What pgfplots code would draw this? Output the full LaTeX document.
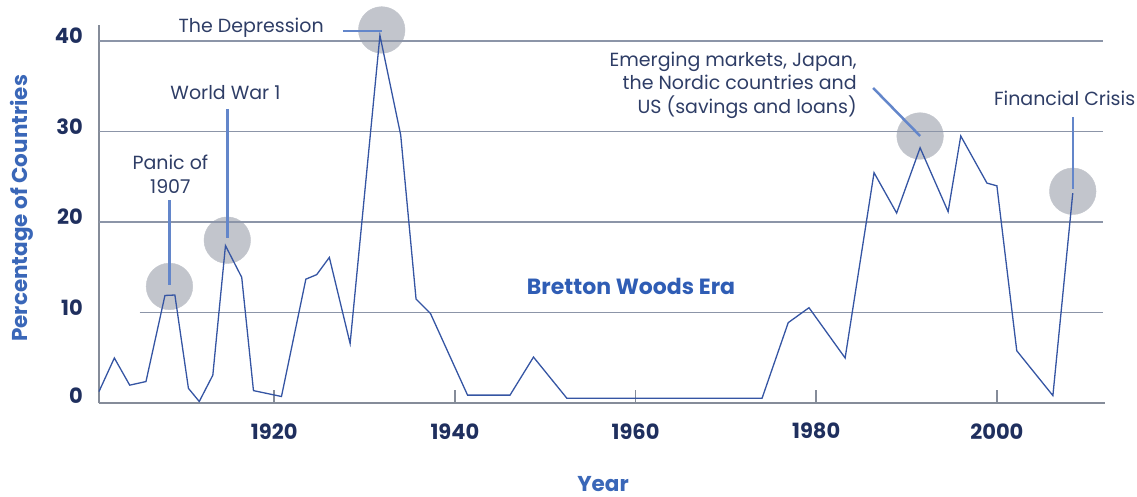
\documentclass[border=0pt]{standalone}
\usepackage{pgfplots}
\pgfplotsset{compat=1.18}
\usepackage{fontspec}
\setmainfont{Poppins}
\definecolor{linecol}{HTML}{3555A3}
\definecolor{gridcol}{HTML}{8C95A8}
\definecolor{axisgray}{HTML}{858C99}
\definecolor{circgray}{HTML}{C2C5CC}
\definecolor{annline}{HTML}{6386CA}
\definecolor{anntext}{HTML}{2E3D66}
\definecolor{bwblue}{HTML}{2F5DB5}
\definecolor{labelblue}{HTML}{3A67B8}
\definecolor{ticknavy}{HTML}{1F2F5E}
\begin{document}
\begin{tikzpicture}[x=1pt,y=1pt]
\begin{axis}[
  set layers=standard,
  at={(99pt,93.7pt)}, anchor=south west,
  scale only axis, width=1006pt, height=378.3pt,
  xmin=1900.6, xmax=2011.97, ymin=0, ymax=41.75,
  axis x line*=bottom, axis y line*=left,
  axis line style={draw=axisgray, line width=2pt},
  xtick={1920,1940,1960,1980,2000}, ytick={0,10,20,30,40},
  yticklabels={{\raisebox{6pt}{0}},10,20,30,40},
  xtick align=inside, major tick length=13pt,
  xtick style={draw=axisgray, line width=1.5pt},
  ytick style={draw=none},
  tick label style={font=\bfseries\fontsize{21}{21}\selectfont, text=ticknavy},
  /pgf/number format/assume math mode=true,
  /pgf/number format/1000 sep={},
  xticklabel style={anchor=center, yshift=-28pt, inner sep=0pt},
  yticklabel style={anchor=east, xshift=-16pt, yshift=5pt, inner sep=0pt},
  clip=false,
]
% highlight circles
\addplot[on layer=axis background, mark layer=axis background, only marks, mark=*, mark size=23.3pt, color=circgray, mark options={fill=circgray, draw=circgray}]
  coordinates {(1908.4,12.9) (1914.8,18.0) (1931.9,41.2) (1991.5,29.5) (2008.4,23.4)};
% grid lines
\draw[gridcol, line width=1.5pt] (axis cs:1905.1,10) -- (axis cs:2011.7,10);
\draw[gridcol, line width=1.5pt] (axis cs:1900.6,20) -- (axis cs:2011.7,20);
\draw[gridcol, line width=1.5pt] (axis cs:1900.6,30) -- (axis cs:2011.7,30);
\draw[gridcol, line width=1.5pt] (axis cs:1900.6,40) -- (axis cs:2011.7,40);
% series
\addplot[linecol, line width=1.3pt] coordinates {
(1900.6,1.3) (1902.3,5.0) (1904.0,2.0) (1905.8,2.4) (1907.9,11.9) (1909.0,11.95)
(1910.5,1.65) (1911.7,0.2) (1913.2,3.1) (1914.6,17.4) (1916.4,13.9) (1917.7,1.4)
(1920.8,0.75) (1923.5,13.7) (1924.7,14.2) (1926.1,16.1) (1928.4,6.6) (1931.7,40.6)
(1934.0,29.6) (1935.7,11.5) (1937.3,9.9) (1941.4,0.9) (1946.1,0.9) (1948.7,5.1)
(1952.4,0.55) (1974.0,0.55) (1976.9,8.9) (1979.2,10.55) (1983.2,5.0) (1986.4,25.45)
(1988.9,21.0) (1991.5,28.2) (1994.6,21.15) (1996.0,29.5) (1998.9,24.3) (2000.0,24.0)
(2002.2,5.8) (2006.2,0.85) (2008.4,23.2)
};
% annotation lines
\draw[annline, line width=2.5pt] (axis cs:1908.4,22.4) -- (axis cs:1908.4,13.0);
\draw[annline, line width=2.5pt] (axis cs:1914.85,32.5) -- (axis cs:1914.85,18.25);
\draw[annline, line width=2.5pt] (axis cs:1927.6,41.1) -- (axis cs:1931.9,41.1);
\draw[annline, line width=2.5pt] (axis cs:1986.3,34.8) -- (axis cs:1991.5,29.5);
\draw[annline, line width=2.5pt] (axis cs:2008.45,31.6) -- (axis cs:2008.45,23.65);
% annotation texts
\node[anchor=east, inner sep=0pt, text=anntext, font=\fontsize{19}{19}\selectfont] at (axis cs:1925.5,41.5) {The Depression};
\node[inner sep=0pt, text=anntext, font=\fontsize{19}{19}\selectfont] at (axis cs:1914.6,34.3) {World War 1};
\node[inner sep=0pt, text=anntext, align=center, font=\fontsize{19}{24}\selectfont] at (axis cs:1908.5,25.3) {Panic of\\1907};
\node[anchor=east, inner sep=0pt, text=anntext, align=right, font=\fontsize{19}{23.3}\selectfont] at (axis cs:1984.5,35.1) {Emerging markets, Japan,\\the Nordic countries and\\US (savings and loans)};
\node[inner sep=0pt, text=anntext, font=\fontsize{19}{19}\selectfont] at (axis cs:2007.5,33.7) {Financial Crisis};
\node[inner sep=0pt, text=bwblue, font=\bfseries\fontsize{22}{22}\selectfont] at (axis cs:1959.5,12.9) {Bretton Woods Era};
\end{axis}
\node[rotate=90, inner sep=0pt, text=labelblue, font=\bfseries\fontsize{21.5}{21.5}\selectfont] at (22pt,288.6pt) {Percentage of Countries};
\node[inner sep=0pt, text=labelblue, font=\bfseries\fontsize{21.5}{21.5}\selectfont] at (603pt,13pt) {Year};
\pgfresetboundingbox
\useasboundingbox (0,0) rectangle (1137pt,497pt);
\end{tikzpicture}
\end{document}
